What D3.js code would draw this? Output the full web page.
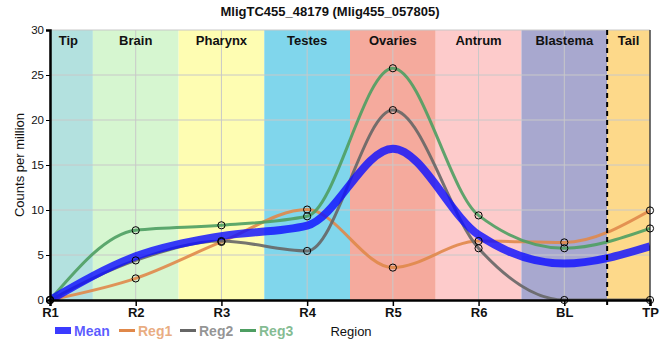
<!DOCTYPE html>
<html><head><meta charset="utf-8">
<script src="https://cdn.jsdelivr.net/npm/d3@7"></script>
<style>body{margin:0;background:#fff;}svg{display:block;font-family:"Liberation Sans",Arial,sans-serif;}</style>
</head><body>
<svg id="c" width="660" height="360"></svg>
<script>
const title = "MligTC455_48179 (Mlig455_057805)";
const positions = ["R1","R2","R3","R4","R5","R6","BL","TP"];
const regionNames = ["Tip","Brain","Pharynx","Testes","Ovaries","Antrum","Blastema","Tail"];
const regionColors = ["#b3e1df","#d6f6d0","#fefdb2","#80d6ec","#f5aa9d","#fdcbcb","#a8a8cf","#fdd98a"];
const reg1 = [0, 2.4, 6.45, 10.05, 3.6, 6.55, 6.4, 9.95];
const reg2 = [0, 4.4, 6.55, 5.45, 21.1, 5.75, 0, 0];
const reg3 = [0, 7.75, 8.3, 9.3, 25.75, 9.4, 5.75, 7.95];
const meanVals = positions.map((_, i) => (reg1[i] + reg2[i] + reg3[i]) / 3);
const yTicks = [0,5,10,15,20,25,30];
const seriesNames = ["Mean","Reg1","Reg2","Reg3"];
const seriesColors = ["#1010ff","#e0884a","#666666","#4e9e62"];

const svg = d3.select("#c");
const m = {l:50, r:10, t:30, b:60};
const W = 660, H = 360;
const x = d3.scalePoint().domain(positions).range([m.l, W - m.r]);
const y = d3.scaleLinear().domain([0,30]).range([H - m.b, m.t]);
const step = x.step();

svg.append("defs").append("clipPath").attr("id", "clip").append("rect")
  .attr("x", m.l).attr("y", y(30)).attr("width", W - m.r - m.l).attr("height", y(0) - y(30));

const bands = regionNames.map((n, i) => {
  let x0, x1;
  if (i === 0) { x0 = x(positions[0]); x1 = x(positions[0]) + step/2; }
  else if (i === regionNames.length - 1) { x0 = x(positions[7]) - step/2; x1 = x(positions[7]); }
  else { x0 = x(positions[i]) - step/2; x1 = x(positions[i]) + step/2; }
  return {n, x0, x1, c: regionColors[i]};
});
svg.append("g").selectAll("rect").data(bands).join("rect")
  .attr("x", d => d.x0).attr("y", y(30)).attr("width", d => d.x1 - d.x0)
  .attr("height", y(0) - y(30)).attr("fill", d => d.c);

// grid
const g = svg.append("g").attr("stroke", "#c8c8c8").attr("stroke-width", 1);
g.selectAll("line.v").data(positions).join("line")
  .attr("x1", d => x(d)).attr("x2", d => x(d)).attr("y1", y(30)).attr("y2", y(0));
g.selectAll("line.h").data(yTicks.slice(1)).join("line")
  .attr("x1", m.l).attr("x2", W - m.r).attr("y1", d => y(d)).attr("y2", d => y(d));

// band labels
svg.append("g").selectAll("text").data(bands).join("text")
  .attr("x", (d, i) => (d.x0 + d.x1)/2 - (i === 0 ? 3 : 0)).attr("y", y(30) + 15)
  .attr("text-anchor", "middle").attr("font-size", 13).attr("font-weight", "bold")
  .attr("fill", "#111").text(d => d.n);

// lines
const line = d3.line().x((d, i) => x(positions[i])).y(d => y(d)).curve(d3.curveMonotoneX);
const regs = [reg1, reg2, reg3];
const lg0 = svg.append("g").attr("clip-path", "url(#clip)");
regs.forEach((r, k) => {
  lg0.append("path").attr("d", line(r)).attr("fill", "none")
    .attr("stroke", seriesColors[k+1]).attr("stroke-width", 3).attr("stroke-opacity", 0.9);
});
lg0.append("path").attr("d", line(meanVals)).attr("fill", "none")
  .attr("stroke", seriesColors[0]).attr("stroke-width", 8).attr("stroke-opacity", 0.82);

// dashed divider between Blastema and Tail
const dx = x(positions[7]) - step/2;
svg.append("line").attr("x1", dx).attr("x2", dx).attr("y1", y(30)).attr("y2", y(0) + 5)
  .attr("stroke", "#000").attr("stroke-width", 2).attr("stroke-dasharray", "5,4");

// points
regs.forEach(r => {
  svg.append("g").selectAll("circle").data(r).join("circle")
    .attr("cx", (d, i) => x(positions[i])).attr("cy", d => y(d)).attr("r", 3.6)
    .attr("fill", "none").attr("stroke", "#000").attr("stroke-width", 1);
});

// axes
const xAxis = svg.append("g").attr("transform", `translate(0,${y(0)})`)
  .call(d3.axisBottom(x).tickSize(6).tickPadding(2));
xAxis.select(".domain").attr("stroke-width", 2.5);
xAxis.selectAll(".tick line").attr("stroke-width", 1.5);
xAxis.selectAll("text").attr("font-size", 13).attr("font-weight", "bold").attr("fill", "#111")
  .attr("font-family", "Liberation Sans, Arial, sans-serif");
const yAxis = svg.append("g").attr("transform", `translate(${m.l},0)`)
  .call(d3.axisLeft(y).tickValues(yTicks).tickSize(4).tickPadding(2));
yAxis.select(".domain").attr("stroke-width", 2.5);
yAxis.selectAll("text").attr("font-size", 11.5).attr("fill", "#111")
  .attr("font-family", "Liberation Sans, Arial, sans-serif");
svg.append("line").attr("x1", W - m.r).attr("x2", W - m.r).attr("y1", y(30)).attr("y2", y(0))
  .attr("stroke", "#000").attr("stroke-width", 1);

// title
svg.append("text").attr("x", 330).attr("y", 16).attr("text-anchor", "middle")
  .attr("font-size", 13).attr("font-weight", "bold").attr("fill", "#111").text(title);

// y label
svg.append("text").attr("transform", `translate(24,${(y(0)+y(30))/2}) rotate(-90)`)
  .attr("text-anchor", "middle").attr("font-size", 13).attr("fill", "#111").text("Counts per million");

// legend
const legX = [55, 119, 180, 240];
const lg = svg.append("g");
seriesNames.forEach((n, i) => {
  if (i === 0) {
    lg.append("rect").attr("x", legX[i]).attr("y", 327).attr("width", 16).attr("height", 7)
      .attr("fill", seriesColors[0]).attr("opacity", 0.82);
  } else {
    lg.append("line").attr("x1", legX[i]).attr("x2", legX[i] + 16).attr("y1", 330.5).attr("y2", 330.5)
      .attr("stroke", seriesColors[i]).attr("stroke-width", 3);
  }
  lg.append("text").attr("x", legX[i] + 19).attr("y", 336).attr("font-size", 14)
    .attr("font-weight", "bold").attr("fill", seriesColors[i]).attr("fill-opacity", 0.7).text(n);
});
svg.append("text").attr("x", 351).attr("y", 336).attr("text-anchor", "middle")
  .attr("font-size", 13).attr("fill", "#111").text("Region");
</script>
</body></html>
